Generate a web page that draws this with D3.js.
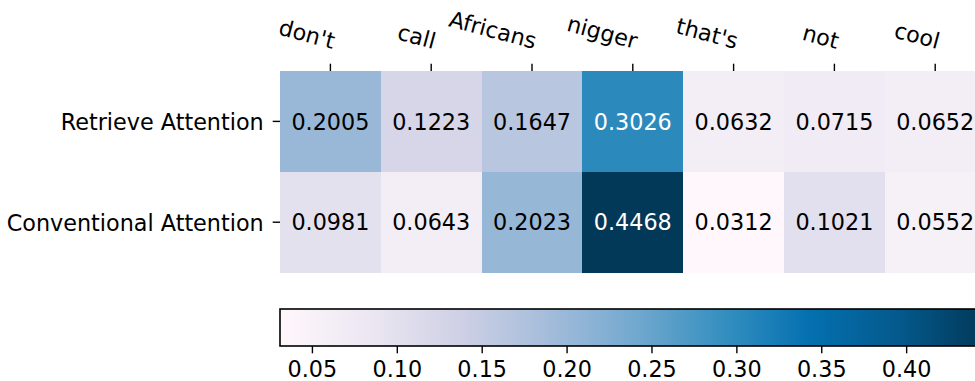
<!DOCTYPE html>
<html>
<head>
<meta charset="utf-8">
<script src="https://cdn.jsdelivr.net/npm/d3@7"></script>
<style>
  html, body { margin: 0; padding: 0; background: #fff; }
  svg { display: block; font-family: "DejaVu Sans", sans-serif; }
</style>
</head>
<body>
<svg id="chart" width="975" height="381"></svg>
<script>
// ---- data ----
const tokens = ["don't", "call", "Africans", "nigger", "that's", "not", "cool"];
const rowLabels = ["Retrieve Attention", "Conventional Attention"];
const retrieveValues = [0.2005, 0.1223, 0.1647, 0.3026, 0.0632, 0.0715, 0.0652];
const conventionalValues = [0.0981, 0.0643, 0.2023, 0.4468, 0.0312, 0.1021, 0.0552];
const colorbarTicks = [0.05, 0.10, 0.15, 0.20, 0.25, 0.30, 0.35, 0.40];
const puBuStops = ["#fff7fb", "#ece7f2", "#d0d1e6", "#a6bddb", "#74a9cf", "#3690c0", "#0570b0", "#045a8d", "#023858"];

// ---- layout ----
const plotLeft = 280, plotTop = 71, cellW = 100.8, cellH = 100.8;
const cbTop = 309, cbH = 37;
const fontSize = 22.3;
const tickLen = 7.3;

const rows = [retrieveValues, conventionalValues];
const cells = [];
rows.forEach((vals, r) => vals.forEach((v, c) => cells.push({ r: rowLabels[r], c: tokens[c], v })));

const allVals = retrieveValues.concat(conventionalValues);
const [vmin, vmax] = d3.extent(allVals);

const x = d3.scaleBand().domain(tokens).range([plotLeft, plotLeft + cellW * tokens.length]).padding(0);
const y = d3.scaleBand().domain(rowLabels).range([plotTop, plotTop + cellH * rowLabels.length]).padding(0);

const norm = d3.scaleLinear().domain([vmin, vmax]).range([0, 1]);
const cmap = d3.scaleLinear()
  .domain(puBuStops.map((_, i) => i / (puBuStops.length - 1)))
  .range(puBuStops)
  .interpolate(d3.interpolateRgb)
  .clamp(true);
const color = v => cmap(norm(v));

const svg = d3.select("#chart");

// cells
svg.append("g").selectAll("rect").data(cells).join("rect")
  .attr("x", d => x(d.c))
  .attr("y", d => y(d.r))
  .attr("width", x.bandwidth() + 0.5)
  .attr("height", y.bandwidth() + 0.5)
  .attr("fill", d => color(d.v))
  .attr("shape-rendering", "crispEdges");

// cell text
svg.append("g").selectAll("text").data(cells).join("text")
  .attr("x", d => x(d.c) + x.bandwidth() / 2)
  .attr("y", d => y(d.r) + y.bandwidth() / 2)
  .attr("dy", "0.37em")
  .attr("text-anchor", "middle")
  .attr("font-size", fontSize)
  .attr("fill", d => norm(d.v) > 0.5 ? "#ffffff" : "#000000")
  .text(d => d.v.toFixed(4));

// top x axis ticks
const xAxisG = svg.append("g");
xAxisG.selectAll("line").data(tokens).join("line")
  .attr("x1", d => x(d) + x.bandwidth() / 2)
  .attr("x2", d => x(d) + x.bandwidth() / 2)
  .attr("y1", plotTop)
  .attr("y2", plotTop - tickLen)
  .attr("stroke", "#000")
  .attr("stroke-width", 1.4);
xAxisG.selectAll("text").data(tokens).join("text")
  .attr("transform", d => `translate(${x(d) + x.bandwidth() / 2 + 2},49) rotate(15)`)
  .attr("text-anchor", "end")
  .attr("font-size", fontSize)
  .attr("fill", "#000")
  .text(d => d);

// left y axis ticks
const yAxisG = svg.append("g");
yAxisG.selectAll("line").data(rowLabels).join("line")
  .attr("x1", plotLeft)
  .attr("x2", plotLeft - tickLen)
  .attr("y1", d => y(d) + y.bandwidth() / 2)
  .attr("y2", d => y(d) + y.bandwidth() / 2)
  .attr("stroke", "#000")
  .attr("stroke-width", 1.4);
yAxisG.selectAll("text").data(rowLabels).join("text")
  .attr("x", plotLeft - tickLen - 9)
  .attr("y", d => y(d) + y.bandwidth() / 2)
  .attr("dy", "0.38em")
  .attr("text-anchor", "end")
  .attr("font-size", fontSize)
  .attr("fill", "#000")
  .text(d => d);

// colorbar
const cbW = cellW * tokens.length;
const defs = svg.append("defs");
const grad = defs.append("linearGradient").attr("id", "cbgrad").attr("x1", "0%").attr("x2", "100%");
puBuStops.forEach((c, i) => {
  grad.append("stop").attr("offset", (i / (puBuStops.length - 1) * 100) + "%").attr("stop-color", c);
});
svg.append("rect")
  .attr("x", plotLeft).attr("y", cbTop)
  .attr("width", cbW).attr("height", cbH)
  .attr("fill", "url(#cbgrad)")
  .attr("stroke", "#000")
  .attr("stroke-width", 1.6);

const cbScale = d3.scaleLinear().domain([vmin, vmax]).range([plotLeft, plotLeft + cbW]);
const cbAxis = d3.axisBottom(cbScale)
  .tickValues(colorbarTicks)
  .tickFormat(d3.format(".2f"))
  .tickSize(tickLen)
  .tickPadding(8);
const cbG = svg.append("g").attr("transform", `translate(0,${cbTop + cbH})`).call(cbAxis);
cbG.select(".domain").remove();
cbG.selectAll(".tick line").attr("stroke", "#000").attr("stroke-width", 1.4);
cbG.selectAll(".tick text")
  .attr("font-size", fontSize)
  .attr("font-family", "DejaVu Sans, sans-serif")
  .attr("fill", "#000");
</script>
</body>
</html>
